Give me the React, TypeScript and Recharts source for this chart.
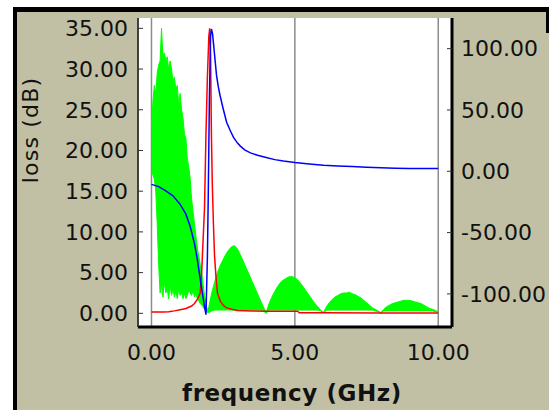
import { ComposedChart, Area, Line, XAxis, YAxis, CartesianGrid } from 'recharts';

const FONT = '"DejaVu Sans", Verdana, sans-serif';
const TAN = '#c2c0a4';

// green trace (loss, dB) drawn as a low/high envelope of the dense oscillation
const greenFreq = [
  0, 0.05, 0.1, 0.15, 0.2, 0.25, 0.3, 0.35, 0.4, 0.45,
  0.5, 0.55, 0.6, 0.65, 0.7, 0.75, 0.8, 0.85, 0.9, 0.95,
  1.0, 1.05, 1.1, 1.15, 1.2, 1.25, 1.3, 1.35, 1.4, 1.45,
  1.5, 1.55, 1.6, 1.65, 1.7, 1.75, 1.8, 1.85, 1.9, 1.95,
  2.0, 2.1, 2.2, 2.3, 2.4, 2.5, 2.6, 2.7, 2.8, 2.9,
  3.0, 3.1, 3.2, 3.3, 3.4, 3.5, 3.6, 3.7, 3.8, 3.9,
  4.0, 4.1, 4.2, 4.3, 4.4, 4.5, 4.6, 4.7, 4.8, 4.9,
  5.0, 5.1, 5.2, 5.3, 5.4, 5.5, 5.6, 5.7, 5.8, 5.9,
  6.0, 6.1, 6.2, 6.3, 6.4, 6.5, 6.6, 6.7, 6.8, 6.9,
  7.0, 7.1, 7.2, 7.3, 7.4, 7.5, 7.6, 7.7, 7.8, 7.9,
  8.0, 8.1, 8.2, 8.3, 8.4, 8.5, 8.6, 8.7, 8.8, 8.9,
  9.0, 9.1, 9.2, 9.3, 9.4, 9.5, 9.6, 9.7, 9.8, 9.9,
  10.0,
];
const greenHi = [
  23, 26, 28, 27, 29.5, 30.5, 31, 35, 31.5, 32,
  31, 31.5, 30, 31, 30, 28.5, 29, 27.5, 28, 25.5,
  27, 25, 24, 22, 21.5, 19, 18, 16.5, 14, 12.5,
  11, 9.5, 8, 7, 6, 5, 3.5, 2.2, 1.2, 0.3,
  0.8, 2.5, 3.8, 5.0, 5.9, 6.6, 7.3, 7.8, 8.2, 8.3,
  7.9, 7.2, 6.4, 5.6, 4.8, 4.0, 3.2, 2.4, 1.6, 0.8,
  0.1, 1.2, 2.0, 2.7, 3.3, 3.8, 4.1, 4.3, 4.5, 4.5,
  4.4, 4.1, 3.7, 3.2, 2.7, 2.2, 1.7, 1.2, 0.8, 0.4,
  0.1, 0.8, 1.3, 1.7, 2.0, 2.2, 2.4, 2.5, 2.5, 2.6,
  2.4, 2.3, 2.1, 1.9, 1.6, 1.3, 1.0, 0.7, 0.5, 0.3,
  0.1, 0.5, 0.8, 1.0, 1.2, 1.3, 1.4, 1.5, 1.6, 1.6,
  1.6, 1.5, 1.4, 1.3, 1.2, 1.0, 0.8, 0.6, 0.5, 0.35,
  0.2,
];
const greenLo = [
  17.5, 17, 16.5, 15, 11, 6, 2.5, 3.5, 2, 4,
  2.5, 3, 1.8, 3.5, 2.2, 3, 2, 2.8, 1.8, 3,
  2.2, 2.6, 1.8, 2.5, 1.8, 2.2, 2.8, 2.5, 2.2, 2.8,
  2.0, 2.4, 1.8, 1.5, 1.2, 1.0, 0.8, 0.5, 0.3, 0.1,
  0.1, 0.3, 0.4, 0.4, 0.4, 0.4, 0.4, 0.4, 0.4, 0.4,
  0.4, 0.4, 0.4, 0.4, 0.4, 0.4, 0.4, 0.4, 0.4, 0.3,
  0, 0.4, 0.4, 0.4, 0.4, 0.4, 0.4, 0.4, 0.4, 0.4,
  0.4, 0.4, 0.4, 0.4, 0.4, 0.4, 0.4, 0.4, 0.4, 0.3,
  0, 0.4, 0.4, 0.4, 0.4, 0.4, 0.4, 0.4, 0.4, 0.4,
  0.4, 0.4, 0.4, 0.4, 0.4, 0.4, 0.4, 0.4, 0.3, 0.2,
  0, 0.3, 0.3, 0.3, 0.3, 0.3, 0.3, 0.3, 0.3, 0.3,
  0.3, 0.3, 0.3, 0.3, 0.3, 0.3, 0.3, 0.3, 0.3, 0.2,
  0.1,
];

// red trace (loss, dB)
const redFreq = [
  0, 0.4, 0.6, 0.8, 1.0, 1.2, 1.4, 1.5, 1.6, 1.7,
  1.75, 1.8, 1.85, 1.9, 1.95, 2.0, 2.03, 2.06, 2.09, 2.12,
  2.16, 2.2, 2.25, 2.3, 2.4, 2.5, 2.6, 2.8, 3.0, 3.5,
  4.0, 5.0, 5.1, 5.15, 6.0, 8.0, 10.0,
];
const redLoss = [
  0.15, 0.15, 0.2, 0.3, 0.45, 0.6, 0.9, 1.2, 1.7, 2.5,
  5, 9, 13, 22, 29, 34, 35, 32, 22, 16,
  11, 7, 4.5, 2.5, 1.5, 1.0, 0.7, 0.5, 0.35, 0.3,
  0.25, 0.25, 0.25, 0.08, 0.08, 0.05, 0.05,
];

// blue trace (right axis)
const blueFreq = [
  0, 0.25, 0.5, 0.75, 1.0, 1.2, 1.35, 1.5, 1.6, 1.7,
  1.8, 1.87, 1.9, 1.95, 1.98, 2.02, 2.06, 2.09, 2.13, 2.18,
  2.22, 2.27, 2.33, 2.39, 2.5, 2.62, 2.75, 2.86, 3.0, 3.1,
  3.25, 3.45, 3.7, 4.0, 4.3, 4.6, 5.0, 5.5, 6.0, 6.5,
  7.0, 7.5, 8.0, 8.5, 9.0, 10.0,
];
const blueValue = [
  -10.7, -12.5, -16, -20, -27, -35, -45, -59, -72, -88,
  -103, -113, -117, -70, -20, 60, 110, 116, 112, 100,
  90, 78, 69, 62, 51, 40, 33, 27.6, 23, 20.5,
  17.5, 15, 13, 11.2, 9.5, 8.4, 7.2, 6, 5, 4.3,
  3.8, 3.3, 2.8, 2.5, 2.3, 2.2,
];

const xTicks = [0, 5, 10];
const lossTicks = [0, 5, 10, 15, 20, 25, 30, 35];
const rightTicks = [-100, -50, 0, 50, 100];

const greenData = greenFreq.map((f, i) => ({ f, g: [greenLo[i], greenHi[i]] }));
const redData = redFreq.map((f, i) => ({ f, loss: redLoss[i] }));
const blueData = blueFreq.map((f, i) => ({ f, v: blueValue[i] }));

const tickStyle = { fontFamily: FONT, fontSize: 22, fill: '#111' };
const fmt = (v: number) => v.toFixed(2);

function YTitle({ viewBox }: any) {
  const x = viewBox.x - 40;
  const y = viewBox.y + 112;
  return (
    <text
      x={x}
      y={y}
      transform={`rotate(-90, ${x}, ${y})`}
      textAnchor="middle"
      fontFamily={FONT}
      fontSize={22}
      letterSpacing={1.2}
      fill="#111"
    >
      loss (dB)
    </text>
  );
}

function XTitle({ viewBox }: any) {
  const x = viewBox.x + viewBox.width / 2 - 3;
  const y = viewBox.y + 74;
  return (
    <text
      x={x}
      y={y}
      textAnchor="middle"
      fontFamily={FONT}
      fontSize={23}
      fontWeight="bold"
      letterSpacing={0.6}
      fill="#111"
    >
      frequency (GHz)
    </text>
  );
}

export default function App() {
  return (
    <div style={{ position: 'absolute', left: 0, top: 0, width: 549, height: 410, background: '#fff', overflow: 'hidden' }}>
      <div
        style={{
          position: 'absolute',
          left: 13,
          top: 7,
          width: 536,
          height: 403,
          boxSizing: 'border-box',
          background: TAN,
          borderLeft: '4px solid #000',
          borderTop: '5px solid #000',
        }}
      />
      <div style={{ position: 'absolute', left: 546, top: 8, width: 3, height: 25, background: '#000' }} />
      <div style={{ position: 'absolute', left: 0, top: 0 }}>
        <ComposedChart width={549} height={410} margin={{ top: 18, right: 37, bottom: 33, left: 78 }}>
          <CartesianGrid
            horizontal={false}
            yAxisId="left"
            stroke="#8c8c8c"
            strokeWidth={1.5}
            fill="#fff"
            fillOpacity={1}
          />
          <XAxis
            dataKey="f"
            type="number"
            domain={[-0.47, 10.48]}
            allowDataOverflow
            ticks={xTicks}
            tickFormatter={fmt}
            tick={tickStyle}
            tickLine={false}
            tickSize={0}
            tickMargin={17}
            height={50}
            axisLine={{ stroke: '#000', strokeWidth: 3 }}
            label={<XTitle />}
          />
          <XAxis
            xAxisId="top"
            orientation="top"
            type="number"
            domain={[-0.47, 10.48]}
            height={0}
            tick={false}
            tickLine={false}
            axisLine={{ stroke: '#333', strokeWidth: 1 }}
          />
          <YAxis
            yAxisId="left"
            type="number"
            domain={[-1.68, 36.27]}
            allowDataOverflow
            ticks={lossTicks}
            tickFormatter={fmt}
            tick={tickStyle}
            width={60}
            tickSize={-5}
            tickMargin={15}
            tickLine={{ stroke: '#333' }}
            axisLine={{ stroke: '#222', strokeWidth: 1.5 }}
            label={<YTitle />}
          />
          <YAxis
            yAxisId="right"
            orientation="right"
            type="number"
            domain={[-127, 125]}
            allowDataOverflow
            ticks={rightTicks}
            tickFormatter={fmt}
            tick={tickStyle}
            width={60}
            tickSize={-5}
            tickMargin={14}
            tickLine={{ stroke: '#333' }}
            axisLine={{ stroke: '#000', strokeWidth: 3 }}
          />
          <Area
            data={greenData}
            yAxisId="left"
            dataKey="g"
            type="linear"
            stroke="#00ff00"
            strokeWidth={1}
            fill="#00ff00"
            fillOpacity={1}
            isAnimationActive={false}
          />
          <Line
            data={redData}
            yAxisId="left"
            dataKey="loss"
            type="linear"
            stroke="#ff0000"
            strokeWidth={1.5}
            dot={false}
            isAnimationActive={false}
          />
          <Line
            data={blueData}
            yAxisId="right"
            dataKey="v"
            type="linear"
            stroke="#0000ff"
            strokeWidth={1.5}
            dot={false}
            isAnimationActive={false}
          />
        </ComposedChart>
      </div>
    </div>
  );
}
